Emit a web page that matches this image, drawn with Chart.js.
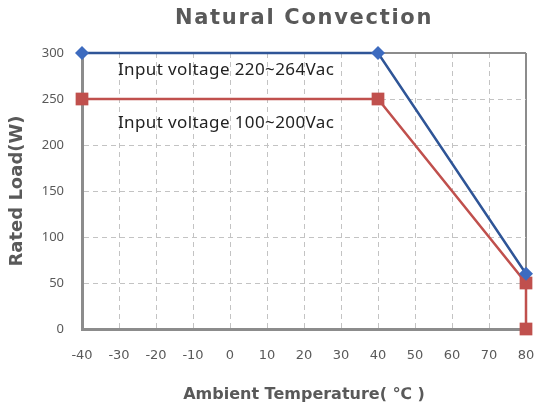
<!DOCTYPE html>
<html>
<head>
<meta charset="utf-8">
<script src="https://cdn.jsdelivr.net/npm/chart.js@4"></script>
<style>
  html, body { margin: 0; padding: 0; background: #fff; }
  #wrap { width: 536px; height: 408px; }
</style>
</head>
<body>
<div id="wrap"><canvas id="myChart"></canvas></div>
<script>
const temps220 = [-40, 40, 80];
const load220 = [300, 300, 60];
const temps100 = [-40, 40, 80, 80];
const load100 = [250, 250, 50, 0];
const labels220 = "Input voltage 220~264Vac";
const labels100 = "Input voltage 100~200Vac";
const xTicks = [-40, -30, -20, -10, 0, 10, 20, 30, 40, 50, 60, 70, 80];
const yTicks = [0, 50, 100, 150, 200, 250, 300];

const grey = "#595959";
const frame = "#8c8c8c";

function toPoints(xs, ys) {
    return xs.map((x, i) => ({ x: x, y: ys[i] }));
}

// title and curve notes
const notes = {
    id: "notes",
    afterDraw(chart) {
        const c = chart.ctx;
        const xs = chart.scales.x, ys = chart.scales.y;
        c.save();
        c.fillStyle = "#222";
        c.font = "17px 'Noto Sans'";
        c.letterSpacing = "0.4px";
        c.textBaseline = "middle";
        c.fillText(labels220, xs.getPixelForValue(-30.3), ys.getPixelForValue(281));
        c.fillText(labels100, xs.getPixelForValue(-30.3), ys.getPixelForValue(224));
        c.fillStyle = grey;
        c.font = "bold 21px 'DejaVu Sans'";
        c.letterSpacing = "1.7px";
        c.textAlign = "center";
        c.fillText("Natural Convection", (chart.chartArea.left + chart.chartArea.right) / 2, 19);
        c.restore();
    }
};

const ctx = document.getElementById("myChart");

let data = {
    datasets: [{
        label: labels220,
        data: toPoints(temps220, load220),
        borderColor: "#2f5597",
        backgroundColor: "#3d6bbf",
        borderWidth: 2.5,
        pointStyle: "rectRot",
        pointRadius: 7,
        pointBorderWidth: 0,
        showLine: true,
        clip: false
    }, {
        label: labels100,
        data: toPoints(temps100, load100),
        borderColor: "#c0504d",
        backgroundColor: "#c0504d",
        borderWidth: 2.5,
        pointStyle: "rect",
        pointRadius: 9,
        pointBorderWidth: 0,
        showLine: true,
        clip: false
    }]
};

function isEdge(c, v) {
    return c.tick && c.tick.value === v;
}

let config = {
    type: "scatter",
    data: data,
    options: {
        responsive: true,
        maintainAspectRatio: false,
        animation: false,
        layout: { padding: { top: 53, right: 10, left: 0, bottom: 0 } },
        plugins: {
            legend: { display: false },
            tooltip: { enabled: false }
        },
        scales: {
            x: {
                type: "linear",
                min: -40,
                max: 80,
                afterBuildTicks: (s) => { s.ticks = xTicks.map(v => ({ value: v })); },
                afterFit: (s) => { s.height = 79; s.paddingLeft = 0; s.paddingRight = 0; },
                ticks: {
                    color: grey,
                    font: { family: "'DejaVu Sans'", size: 13 },
                    padding: 19,
                    maxRotation: 0
                },
                grid: {
                    drawTicks: false,
                    color: (c) => isEdge(c, 80) ? frame : "#c3c3c3",
                    lineWidth: (c) => isEdge(c, 80) ? 2 : 1
                },
                border: {
                    color: frame,
                    width: 3,
                    dash: (c) => c.tick && c.tick.value !== 80 ? [5, 4] : []
                },
                title: {
                    display: true,
                    text: "Ambient Temperature( ℃ )",
                    color: grey,
                    font: { family: "'DejaVu Sans'", size: 16, weight: "bold" },
                    padding: { top: 0, bottom: 4 }
                }
            },
            y: {
                min: 0,
                max: 300,
                afterBuildTicks: (s) => { s.ticks = yTicks.map(v => ({ value: v })); },
                afterFit: (s) => { s.width = 82; s.paddingTop = 0; s.paddingBottom = 0; },
                ticks: {
                    color: grey,
                    font: { family: "'Noto Sans'", size: 13 },
                    padding: 18
                },
                grid: {
                    drawTicks: false,
                    color: (c) => isEdge(c, 300) ? frame : "#c3c3c3",
                    lineWidth: (c) => isEdge(c, 300) ? 2 : 1
                },
                border: {
                    color: frame,
                    width: 3,
                    dash: (c) => c.tick && c.tick.value !== 300 ? [5, 4] : []
                },
                title: {
                    display: true,
                    text: "Rated Load(W)",
                    color: grey,
                    font: { family: "'DejaVu Sans'", size: 18, weight: "bold" },
                    padding: { top: 7, bottom: 0 }
                }
            }
        }
    },
    plugins: [notes]
};

let myChart = new Chart(ctx, config);
</script>
</body>
</html>
